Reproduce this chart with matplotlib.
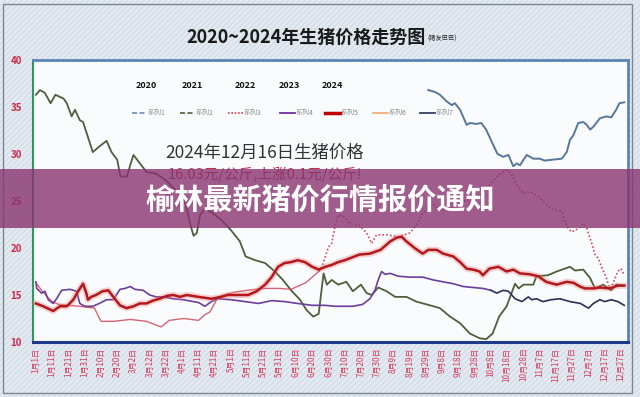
import matplotlib
matplotlib.use("Agg")
import matplotlib.pyplot as plt
from matplotlib.patches import Rectangle
from matplotlib.lines import Line2D

plt.rcParams['font.family'] = ['Noto Sans CJK SC', 'DejaVu Sans']
plt.rcParams['hatch.linewidth'] = 0.6

# ---------------- data ----------------
tick_days = list(range(0, 361, 10))
tick_labels = ["1月1日", "1月11日", "1月21日", "1月31日", "2月10日", "2月20日", "3月2日", "3月12日",
               "3月22日", "4月1日", "4月11日", "4月21日", "5月1日", "5月11日", "5月21日", "5月31日",
               "6月10日", "6月20日", "6月30日", "7月10日", "7月20日", "7月30日", "8月9日", "8月19日",
               "8月29日", "9月8日", "9月18日", "9月28日", "10月8日", "10月18日", "10月28日", "11月7日",
               "11月17日", "11月27日", "12月7日", "12月17日", "12月27日"]
year_labels = ["2020", "2021", "2022", "2023", "2024"]
legend_names = ["系列1", "系列2", "系列3", "系列4", "系列5", "系列6", "系列7"]

# 系列1 (2020, blue-gray)
s1_day = [241.4, 245.5, 248.6, 252.7, 255.8, 257.8, 261, 265, 267, 271, 274, 277, 281, 284, 287.6, 290.7,
          293.7, 295.8, 297.8, 302, 306, 310, 313, 318, 323.5, 326.6, 328.6, 330.7, 333.7, 336.8, 338.9,
          341, 343, 347, 351, 354, 357, 359, 362]
s1_val = [36.8, 36.6, 36.3, 35.6, 35.2, 35.4, 34.7, 33.1, 33.3, 33.2, 33.3, 32.6, 31.1, 30.0, 29.7, 29.9,
          28.7, 29.0, 28.8, 29.9, 29.5, 29.5, 29.3, 29.4, 29.5, 30.2, 31.5, 32.0, 33.3, 33.4, 33.1,
          32.6, 32.9, 33.8, 34.0, 33.9, 34.7, 35.4, 35.5]

# 系列2 (2021, dark green)
s2_day = [0, 2.5, 5.5, 9, 12, 17, 19, 22, 24, 27, 29, 32, 35, 39, 43.5, 46.5, 50, 52, 56, 58, 60, 64, 68,
          74, 80, 85, 89, 92, 95, 97, 99, 101, 104, 108, 114, 120, 125.5, 129, 135, 141, 147, 152, 157,
          162.5, 166.5, 170.6, 174, 176, 177, 179, 182, 186, 191, 195, 200, 203.5, 206.6, 210.6, 215.8,
          221, 228, 234, 242.5, 248.6, 254.8, 261, 267, 273, 277, 281, 285, 289.6, 294.8, 297, 300, 306,
          308, 315, 320.4, 328.6, 331.7, 336.8, 341, 344, 349, 354, 357, 362]
s2_val = [36.3, 36.8, 36.5, 35.4, 36.3, 35.9, 35.4, 34.0, 34.7, 33.6, 33.4, 31.8, 30.2, 30.8, 31.4, 30.2,
          29.4, 27.6, 27.6, 28.8, 29.9, 29.0, 28.1, 27.9, 27.2, 26.3, 25.6, 24.8, 22.5, 21.3, 21.6, 23.5,
          24.2, 23.8, 23.0, 21.9, 20.7, 19.1, 18.7, 18.4, 17.5, 16.6, 15.5, 14.5, 13.4, 12.7, 13.0, 15.9,
          17.3, 16.1, 16.6, 16.1, 16.4, 15.4, 16.1, 15.2, 15.0, 15.8, 15.4, 14.8, 14.8, 14.3, 13.9, 13.6,
          12.7, 12.0, 10.9, 10.4, 10.3, 10.9, 12.7, 13.8, 16.2, 15.7, 16.1, 16.1, 17.0, 17.1, 17.5, 18.0,
          17.6, 17.7, 16.8, 15.7, 16.1, 15.5, 16.1, 16.0]

# 系列3 (2022, red) - first part solid, second part dotted
s3a_day = [0, 3, 7, 10, 14, 20, 27, 36, 38, 40, 48, 58, 68, 77, 82, 91, 100, 104, 107, 110, 112, 116,
           122, 130, 140, 150, 157, 162, 166, 170, 174]
s3a_val = [16.3, 15.6, 14.8, 14.3, 14.0, 13.9, 13.8, 13.6, 12.9, 12.2, 12.2, 12.4, 12.2, 11.6, 12.3,
           12.5, 12.3, 12.9, 13.2, 14.1, 14.8, 15.0, 15.3, 15.5, 15.7, 15.7, 15.6, 16.0, 16.3, 16.9, 17.5]
s3b_day = [174, 176, 180, 182, 184, 186, 189.6, 193, 199, 203.5, 206.6, 209.6, 215.8, 223, 230, 234, 238,
           244.5, 250, 255, 265, 273, 278, 285.5, 289.6, 292.7, 295.8, 300, 304, 309, 313, 317, 320.4,
           323.5, 326.6, 329.7, 334, 336.8, 338.9, 342, 344, 346, 348, 351, 353, 355, 358, 360, 362]
s3b_val = [17.5, 18.0, 20.1, 20.5, 22.3, 23.5, 23.3, 22.6, 22.4, 21.6, 20.5, 21.4, 21.4, 21.2, 21.6, 22.4,
           23.7, 24.6, 24.0, 24.2, 25.1, 25.5, 26.5, 27.9, 28.3, 27.9, 26.7, 25.8, 26.0, 25.5, 24.8, 24.2,
           24.0, 23.9, 22.3, 21.7, 22.1, 22.6, 22.1, 20.5, 19.3, 18.9, 18.0, 16.8, 15.7, 16.2, 17.5, 17.8,
           17.1]

# 系列4 (2023, purple)
s4_day = [0, 0.5, 3.5, 5.5, 7.6, 10.6, 12.7, 15.8, 21, 25, 27, 30, 35, 39, 43.5, 47.6, 51.7, 54.8, 58, 61,
          66, 70, 74, 78, 84.5, 90.6, 100, 104, 108, 112, 120, 128.6, 137, 145, 153, 161, 170, 178, 184,
          195, 201, 205.5, 208.6, 210.6, 212.7, 214.8, 218, 223, 230, 238, 244.5, 250.6, 256.8, 263, 269,
          275, 280]
s4_val = [16.4, 15.7, 15.2, 15.4, 14.5, 14.1, 14.6, 15.5, 15.6, 15.4, 14.1, 13.8, 13.8, 14.1, 14.5, 14.5,
          15.6, 15.7, 15.9, 15.6, 15.5, 15.0, 14.8, 14.8, 14.6, 14.5, 14.2, 13.8, 14.3, 14.6, 14.5, 14.3,
          14.1, 14.4, 14.3, 14.1, 13.9, 13.9, 13.8, 13.8, 14.0, 14.6, 15.5, 16.6, 17.5, 17.2, 17.3, 17.0,
          16.9, 16.9, 16.6, 16.4, 16.2, 15.9, 15.8, 15.7, 15.5]

# 系列5 (2024, thick red)
s5_day = [0, 4.5, 10.6, 14.8, 19, 23, 26, 29, 31, 32, 34, 37, 41, 44.5, 47.6, 51.7, 55.8, 60, 64, 68, 72,
          76, 80.4, 84.5, 88.6, 92.7, 100, 108, 114, 118, 124.5, 130.6, 135.8, 141, 145, 149, 153, 157,
          161, 165.5, 170, 174, 178, 182, 186, 190, 193, 199, 205.5, 212, 218, 222, 225, 228, 233, 238,
          241.4, 246.6, 250.6, 256.8, 261, 265, 269, 273, 275, 279, 284.5, 289.6, 293.7, 297.8, 304, 309,
          314, 320.4, 326.6, 330.7, 334.8, 337.8, 343, 347, 353, 358, 362]
s5_val = [14.1, 13.8, 13.3, 13.8, 13.8, 14.5, 15.4, 16.2, 15.2, 14.5, 14.8, 15.0, 15.4, 15.5, 14.8, 13.9,
          13.6, 13.8, 14.1, 14.1, 14.4, 14.6, 14.9, 15.0, 14.8, 15.0, 14.8, 14.6, 14.8, 15.0, 15.0, 15.0,
          15.4, 16.1, 16.9, 18.0, 18.4, 18.5, 18.7, 18.5, 18.0, 17.7, 18.0, 18.2, 18.5, 18.7, 18.9, 19.3,
          19.4, 19.8, 20.7, 21.1, 21.2, 20.7, 20.0, 19.4, 19.8, 19.8, 19.4, 19.1, 18.5, 17.8, 17.7, 17.5,
          17.1, 17.8, 18.0, 17.5, 17.7, 17.3, 17.2, 17.0, 16.4, 16.1, 16.4, 16.3, 15.9, 15.7, 15.7, 15.8,
          15.7, 16.0, 16.0]

# 系列7 (dark navy)
s7_day = [280, 283.5, 287.6, 290.7, 294.8, 299, 303, 305, 308, 312, 317, 322.5, 328.6, 335, 340, 343, 347,
          350, 354, 358, 362]
s7_val = [15.5, 15.2, 15.5, 15.4, 14.6, 14.3, 14.8, 14.5, 14.6, 14.3, 14.5, 14.6, 14.3, 14.1, 13.6, 14.1,
          14.5, 14.3, 14.5, 14.3, 13.9]

# ---------------- figure ----------------
W, H = 640, 397
fig = plt.figure(figsize=(6.4, 3.97), dpi=100)
fig.patch.set_facecolor('#e2e9f0')


def fx(x):
    return x / W


def fy(y):
    return 1 - y / H


# textured background
fig.patches.append(Rectangle((0, 0), 1, 1, transform=fig.transFigure, facecolor='#e2e9f0',
                             edgecolor='#cdd7e2', hatch='//////', lw=0, zorder=-10))
# outer frame
fig.patches.append(Rectangle((fx(3), fy(393)), fx(632) - fx(3), fy(4) - fy(393), transform=fig.transFigure,
                             fill=False, edgecolor='#7d8794', lw=1.0, zorder=-5))

ax = fig.add_axes([fx(33), fy(342), fx(628) - fx(33), fy(60) - fy(342)])
ax.set_facecolor('#f9fbfd')
ax.set_xlim(-1.8, 364.3)
ax.set_ylim(10, 40)

c1 = '#56779a'
c2 = '#4d5f3c'
c3 = '#cf4a5c'
c4 = '#6b3e9a'
c5 = '#b3181c'
c6 = '#f0a878'
c7 = '#2c3058'

ax.plot(s1_day, s1_val, color=c1, lw=1.4, zorder=3)
ax.plot(s2_day, s2_val, color=c2, lw=1.3, zorder=3)
ax.plot(s3a_day, s3a_val, color=c3, lw=1.0, alpha=0.85, zorder=3)
ax.plot(s3b_day, s3b_val, color=c3, lw=1.2, ls=(0, (1, 1.3)), zorder=3)
ax.plot(s4_day, s4_val, color=c4, lw=1.2, zorder=3)
ax.plot(s7_day, s7_val, color=c7, lw=1.2, zorder=3)
ax.plot(s5_day, s5_val, color='#f08080', lw=4.5, alpha=0.35, zorder=3)
ax.plot(s5_day, s5_val, color=c5, lw=1.8, zorder=4)

ax.set_yticks(range(10, 41, 5))
ax.tick_params(axis='y', length=0, pad=8, labelsize=7, labelcolor='#cc2a4a')
for t in ax.get_yticklabels():
    t.set_fontweight('bold')
ax.set_xticks(tick_days)
ax.set_xticklabels(tick_labels, rotation=90, fontsize=5.8, color='#d83a5a')
ax.tick_params(axis='x', length=0, pad=4)

ax.spines['left'].set_color('#2e9a5a')
ax.spines['left'].set_linewidth(1.5)
ax.spines['bottom'].set_color('#1e3a8a')
ax.spines['bottom'].set_linewidth(2.2)
ax.spines['top'].set_color('#5b84b8')
ax.spines['top'].set_linewidth(2.0)
ax.spines['right'].set_color('#5b84b8')
ax.spines['right'].set_linewidth(2.0)

# title
fig.text(fx(306), fy(37), "2020~2024年生猪价格走势图", ha='center', va='center', fontsize=13,
         fontweight='bold', color='#1a1a1a')
fig.text(fx(442), fy(39), "(猪友巴巴)", ha='center', va='center', fontsize=4.5, color='#222222')

# year labels
year_x = [146, 192, 245, 289, 332]
for yx, lab in zip(year_x, year_labels):
    fig.text(fx(yx), fy(86), lab, ha='center', va='center', fontsize=6.5, fontweight='bold', color='#111111')

# legend row
styles = [dict(color='#6b8fb5', ls=(0, (3, 1.5)), lw=1.2),
          dict(color=c2, ls=(0, (3, 1.5)), lw=1.2),
          dict(color='#d04050', ls=(0, (1, 1)), lw=1.2),
          dict(color='#7030a0', ls='-', lw=1.3),
          dict(color='#c00000', ls='-', lw=2.5),
          dict(color=c6, ls='-', lw=1.2),
          dict(color='#34405e', ls='-', lw=1.3)]
leg_x = [132, 180, 228, 280, 325, 373, 420]
for lx, name, st in zip(leg_x, legend_names, styles):
    fig.add_artist(Line2D([fx(lx), fx(lx + 15)], [fy(113), fy(113)], transform=fig.transFigure, **st))
    fig.text(fx(lx + 16), fy(113), name, ha='left', va='center', fontsize=5, color='#8a8a8a')

# annotation
fig.text(fx(265), fy(153), "2024年12月16日生猪价格", ha='center', va='center', fontsize=12.5,
         color='#333333', zorder=5)
fig.text(fx(265), fy(174), "16.03元/公斤,上涨0.1元/公斤!", ha='center', va='center', fontsize=10.5,
         color='#c0304a', zorder=5)

# banner
fig.patches.append(Rectangle((0, fy(228)), 1, fy(169) - fy(228), transform=fig.transFigure,
                             facecolor='#8a3470', alpha=0.8, lw=0, zorder=10))
fig.text(fx(320), fy(200), "榆林最新猪价行情报价通知", ha='center', va='center', fontsize=21,
         fontweight='heavy', color='white', zorder=11)

fig.savefig('out.png', dpi=100)
